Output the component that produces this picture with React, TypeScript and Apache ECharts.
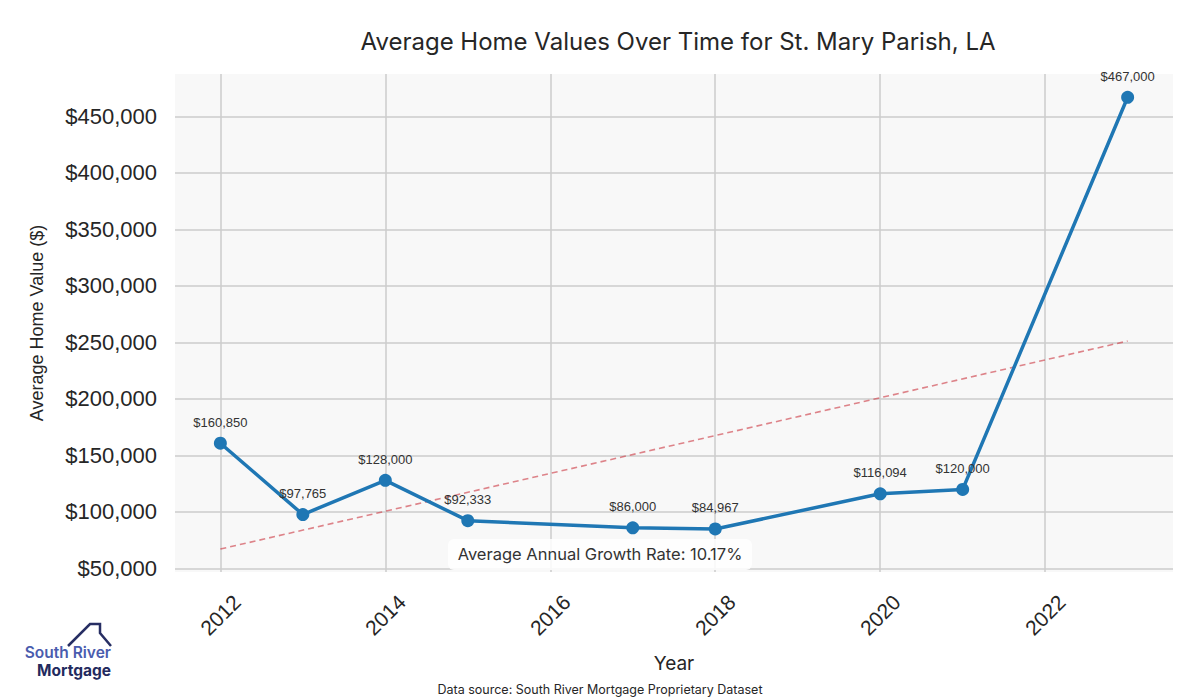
import React, { useEffect, useRef } from "react";
import * as echarts from "echarts";

const years = [2012, 2013, 2014, 2015, 2017, 2018, 2020, 2021, 2023];
const values = [160850, 97765, 128000, 92333, 86000, 84967, 116094, 120000, 467000];
const trendYears = [2012, 2023];
const trendValues = [67200, 251300];
const xTicks = [2012, 2014, 2016, 2018, 2020, 2022];
const yTicks = [50000, 100000, 150000, 200000, 250000, 300000, 350000, 400000, 450000];
const growthRate = "10.17%";

const fmt = (v: number) => "$" + v.toLocaleString("en-US");

export default function App() {
  const ref = useRef<HTMLDivElement>(null);
  useEffect(() => {
    if (!ref.current) return;
    const chart = echarts.init(ref.current, null, { renderer: "svg" });
    const ARIAL = "'Liberation Sans', Arial, sans-serif";
    const SANS = "Inter, 'Noto Sans', sans-serif";
    chart.setOption({
      animation: false,
      backgroundColor: "#ffffff",
      title: {
        text: "Average Home Values Over Time for St. Mary Parish, LA",
        left: 673,
        top: 24,
        textAlign: "center",
        textStyle: { fontFamily: SANS, fontSize: 24, fontWeight: 400, color: "#262626" },
      },
      grid: {
        left: 175,
        right: 27,
        top: 74,
        bottom: 128,
        show: true,
        backgroundColor: "#f8f8f8",
        borderWidth: 0,
        containLabel: false,
      },
      xAxis: {
        type: "value",
        min: 2011.45,
        max: 2023.55,
        name: "Year",
        nameLocation: "middle",
        nameGap: 82,
        nameTextStyle: { fontFamily: SANS, fontSize: 19, color: "#262626" },
        axisLine: { show: false },
        axisTick: { show: false, customValues: xTicks },
        axisLabel: {
          customValues: xTicks,
          rotate: 45,
          align: "center",
          verticalAlign: "middle",
          margin: 43,
          fontFamily: ARIAL,
          fontSize: 21,
          color: "#262626",
          formatter: (v: number) => String(v),
        },
        splitLine: { show: true, lineStyle: { color: "#cccccc", width: 1.5 } },
      },
      yAxis: {
        type: "value",
        min: 46900,
        max: 487600,
        name: "Average Home Value ($)",
        nameLocation: "middle",
        nameGap: 129,
        nameTextStyle: { fontFamily: ARIAL, fontSize: 18, color: "#262626" },
        axisLine: { show: false },
        axisTick: { show: false, customValues: yTicks },
        axisLabel: {
          customValues: yTicks,
          margin: 18,
          fontFamily: ARIAL,
          fontSize: 22,
          color: "#262626",
          formatter: (v: number) => fmt(v),
        },
        splitLine: { show: true, lineStyle: { color: "#cccccc", width: 1.5 } },
      },
      series: [
        {
          type: "line",
          data: trendYears.map((y, i) => [y, trendValues[i]]),
          symbol: "none",
          lineStyle: { color: "rgba(205,60,70,0.62)", width: 1.6, type: [6, 4] },
          z: 2,
          silent: true,
        },
        {
          type: "line",
          data: years.map((y, i) => [y, values[i]]),
          symbol: "circle",
          symbolSize: 13,
          itemStyle: { color: "#1f77b4", borderColor: "#1f77b4", borderWidth: 0 },
          lineStyle: { color: "#1f77b4", width: 3.5 },
          z: 3,
          label: {
            show: true,
            position: "top",
            distance: 8,
            fontFamily: ARIAL,
            fontSize: 13,
            color: "#333333",
            formatter: (p: any) => fmt(p.value[1]),
          },
        },
      ],
      graphic: [
        {
          type: "rect",
          shape: { x: 448, y: 539, width: 304, height: 31, r: 6 },
          style: { fill: "rgba(255,255,255,0.85)" },
          z: 10,
        },
        {
          type: "text",
          x: 600,
          y: 554,
          style: {
            text: "Average Annual Growth Rate: " + growthRate,
            fontFamily: SANS,
            fontSize: 16.5,
            fill: "#333333",
            align: "center",
            verticalAlign: "middle",
          },
          z: 11,
        },
        {
          type: "text",
          x: 600,
          y: 689,
          style: {
            text: "Data source: South River Mortgage Proprietary Dataset",
            fontFamily: SANS,
            fontSize: 12.5,
            fill: "#262626",
            align: "center",
            verticalAlign: "middle",
          },
        },
        {
          type: "polyline",
          shape: {
            points: [
              [68, 646],
              [90, 624],
              [100, 624],
              [100, 633],
              [111, 646],
            ],
          },
          style: { stroke: "#272e63", lineWidth: 2.5, fill: "none" },
        },
        {
          type: "text",
          x: 111,
          y: 652,
          style: {
            text: "South River",
            fontFamily: SANS,
            fontSize: 15.5,
            fontWeight: 600,
            fill: "#4a5cae",
            align: "right",
            verticalAlign: "middle",
          },
        },
        {
          type: "text",
          x: 111,
          y: 670,
          style: {
            text: "Mortgage",
            fontFamily: SANS,
            fontSize: 15.5,
            fontWeight: 700,
            fill: "#232a5e",
            align: "right",
            verticalAlign: "middle",
          },
        },
      ],
    });
    return () => chart.dispose();
  }, []);
  return (
    <div
      ref={ref}
      style={{ position: "absolute", left: 0, top: 0, width: 1200, height: 700 }}
    />
  );
}
